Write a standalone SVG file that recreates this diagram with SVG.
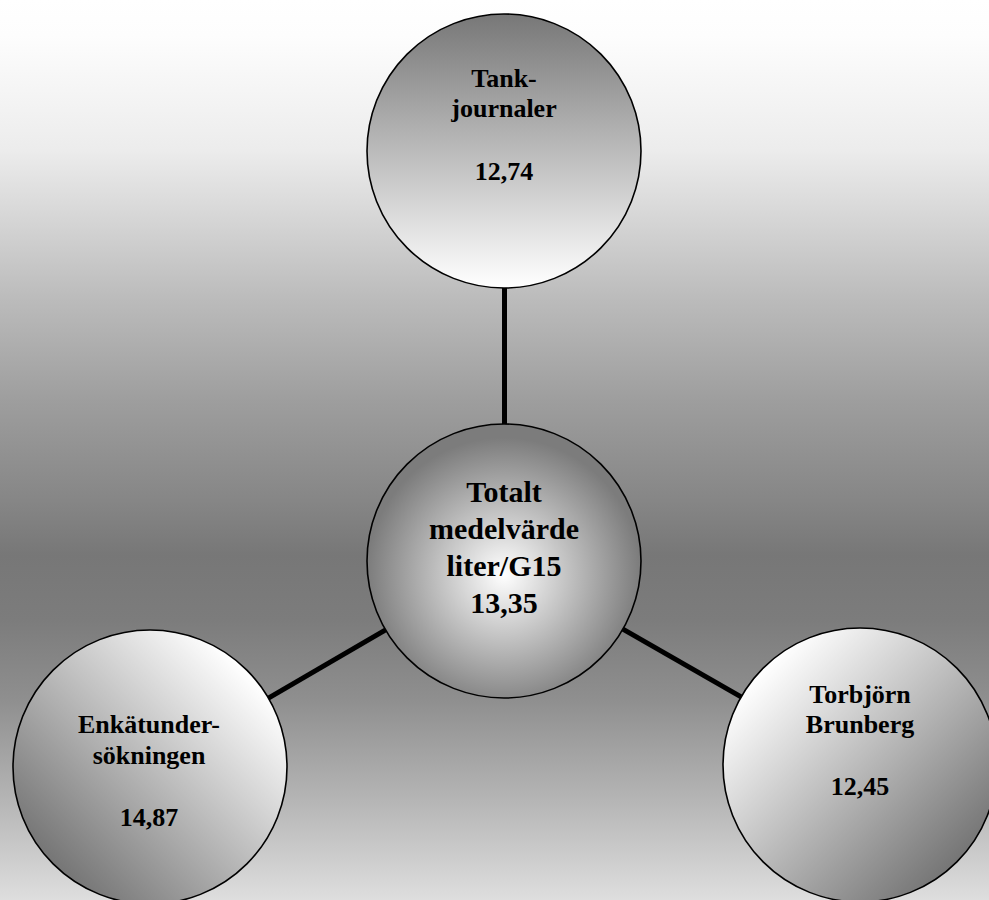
<svg xmlns="http://www.w3.org/2000/svg" width="989" height="900" viewBox="0 0 989 900">
<defs>
<linearGradient id="bg" x1="0" y1="0" x2="0" y2="1">
<stop offset="0" stop-color="#ffffff"/>
<stop offset="0.04" stop-color="#fdfdfd"/>
<stop offset="0.167" stop-color="#ececec"/>
<stop offset="0.222" stop-color="#dcdcdc"/>
<stop offset="0.333" stop-color="#bbbbbb"/>
<stop offset="0.444" stop-color="#9e9e9e"/>
<stop offset="0.556" stop-color="#868686"/>
<stop offset="0.617" stop-color="#777777"/>
<stop offset="0.689" stop-color="#7c7c7c"/>
<stop offset="0.778" stop-color="#8f8f8f"/>
<stop offset="0.889" stop-color="#b5b5b5"/>
<stop offset="1" stop-color="#dedede"/>
</linearGradient>
<linearGradient id="gTop" x1="0" y1="0" x2="0" y2="1">
<stop offset="0" stop-color="#777777"/>
<stop offset="1" stop-color="#ffffff"/>
</linearGradient>
<radialGradient id="gCenter" cx="0.5" cy="0.55" r="0.5">
<stop offset="0" stop-color="#ffffff"/>
<stop offset="1" stop-color="#7c7c7c"/>
</radialGradient>
<linearGradient id="gLeft" x1="0.85" y1="0.15" x2="0.15" y2="0.85">
<stop offset="0" stop-color="#ffffff"/>
<stop offset="1" stop-color="#767676"/>
</linearGradient>
<linearGradient id="gRight" x1="0.15" y1="0.15" x2="0.85" y2="0.85">
<stop offset="0" stop-color="#ffffff"/>
<stop offset="1" stop-color="#767676"/>
</linearGradient>
</defs>
<style>
.node{stroke:#000;stroke-width:1.6}
.edge{stroke:#000;stroke-width:5;fill:none}
.t{font-family:"Liberation Serif","Times New Roman",serif;font-weight:bold;font-size:26px;fill:#000;text-anchor:middle}
.tc{font-size:30px}
</style>
<rect x="0" y="0" width="989" height="900" fill="url(#bg)"/>
<g id="connectors">
<line class="edge" x1="504.5" y1="287" x2="504.5" y2="425"/>
<line class="edge" x1="385.6" y1="629.9" x2="268.4" y2="698.1"/>
<line class="edge" x1="622.9" y1="629.1" x2="741.1" y2="696.9"/>
</g>
<g id="node-tank">
<circle class="node" cx="504" cy="151" r="137" fill="url(#gTop)"/>
<text class="t" x="504" y="87">Tank-</text>
<text class="t" x="504" y="117">journaler</text>
<text class="t" x="504" y="180">12,74</text>
</g>
<g id="node-center">
<circle class="node" cx="504" cy="561" r="137" fill="url(#gCenter)"/>
<text class="t tc" x="504" y="502">Totalt</text>
<text class="t tc" x="504" y="539">medelvärde</text>
<text class="t tc" x="504" y="576">liter/G15</text>
<text class="t tc" x="504" y="613">13,35</text>
</g>
<g id="node-enkat">
<circle class="node" cx="150" cy="767" r="137" fill="url(#gLeft)"/>
<text class="t" x="149" y="733">Enkätunder-</text>
<text class="t" x="149" y="764">sökningen</text>
<text class="t" x="149" y="826">14,87</text>
</g>
<g id="node-torbjorn">
<circle class="node" cx="860" cy="765" r="137" fill="url(#gRight)"/>
<text class="t" x="860" y="703">Torbjörn</text>
<text class="t" x="860" y="733">Brunberg</text>
<text class="t" x="860" y="795">12,45</text>
</g>
</svg>
